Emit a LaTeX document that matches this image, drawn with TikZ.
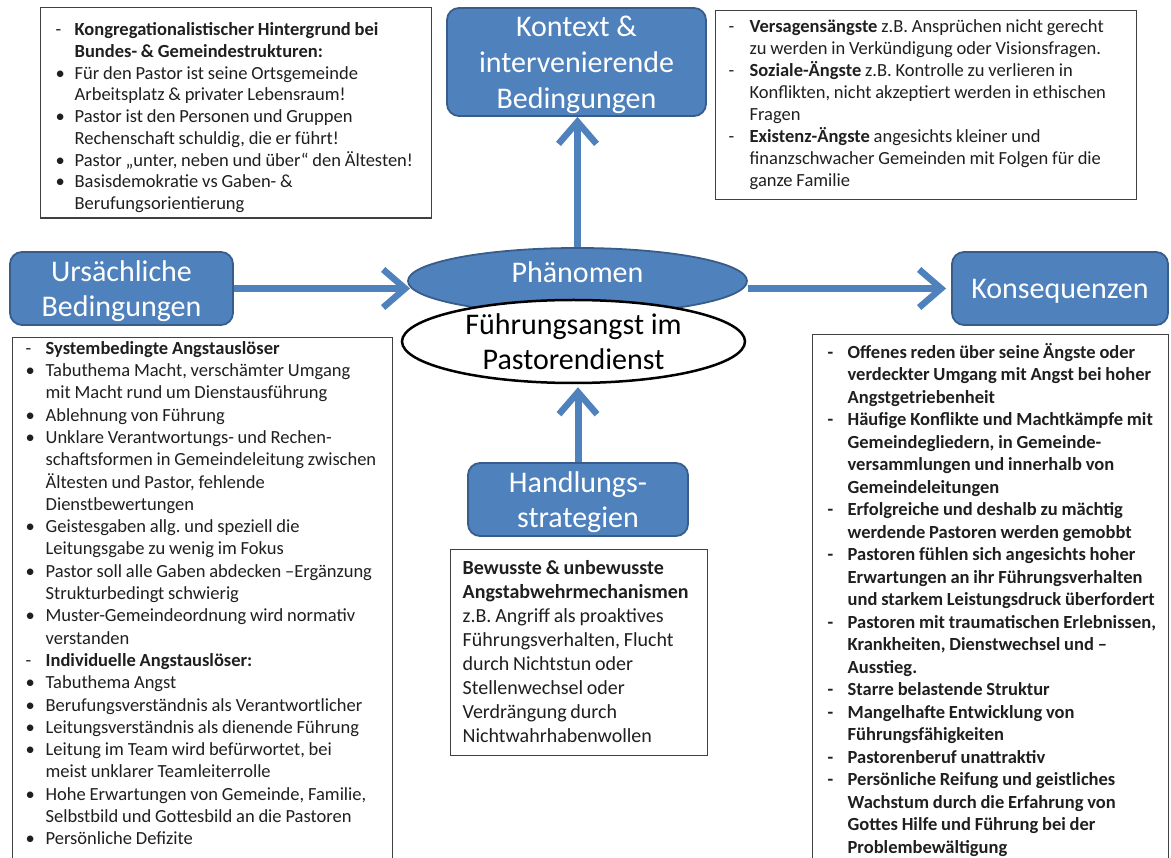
\documentclass[tikz,border=0pt]{standalone}
\usepackage{fontspec}
\setmainfont{Carlito}
\usetikzlibrary{arrows.meta,shapes.geometric}
\definecolor{BoxBlue}{HTML}{4F81BD}
\definecolor{BoxEdge}{HTML}{385D8A}
\definecolor{TextGray}{HTML}{1F1F1F}

\begin{document}
\begin{tikzpicture}[
    x=1pt, y=-1pt,
    % Environment Config
    BlueBox/.style={% Style for the blue category boxes
      draw=BoxEdge,
      fill=BoxBlue,
      line width=1.8pt,
      rounded corners=12pt,
      text=white,
      align=center,
      inner sep=0pt,
      text depth=0pt,
      font=\fontsize{30}{35}\selectfont
    },
    BlueEllipse/.style={% Style for the phenomenon ellipse
      ellipse,
      draw=BoxEdge,
      fill=BoxBlue,
      line width=1.8pt,
      minimum width=339pt,
      minimum height=66pt,
      inner sep=0pt
    },
    CoreEllipse/.style={% Style for the white core ellipse
      ellipse,
      draw=black,
      fill=white,
      line width=2.5pt,
      minimum width=343pt,
      minimum height=83pt,
      inner sep=0pt
    },
    BigLabel/.style={% Style for the texts on the ellipses
      inner sep=0pt,
      align=center,
      font=\fontsize{30}{35}\selectfont
    },
    ListBox/.style={% Style for the framed lists
      draw=black!75,
      fill=white,
      line width=1.3pt,
      anchor=north west,
      align=left,
      inner ysep=0pt,
      text=TextGray,
      execute at begin node={\frenchspacing\spaceskip=3.8pt\xspaceskip=3.8pt\relax}
    },
    FlowArrow/.style={% Style for the blue connectors
      -{Straight Barb[length=22pt,width=38pt,line width=6.5pt]},
      draw=BoxBlue,
      line width=7pt
    }
  ]

  % Fix the page to the reference size
  \useasboundingbox (0,0) rectangle (1171,858);
  \clip (0,0) rectangle (1171,858);

  %===Kontext list===
  \draw(40,7) node[ListBox, inner xsep=15pt, text width=361pt,
      font=\fontsize{18.5}{21.7}\selectfont](ContextList){%
    \begin{tabular}{@{}p{19pt}@{}l@{}}
      \noalign{\vskip 13pt}
      - & \textbf{Kongregationalistischer Hintergrund bei}\\
        & \textbf{Bundes- \& Gemeindestrukturen:}\\
      • & Für den Pastor ist seine Ortsgemeinde\\
        & Arbeitsplatz \& privater Lebensraum!\\
      • & Pastor ist den Personen und Gruppen\\
        & Rechenschaft schuldig, die er führt!\\
      • & Pastor „unter, neben und über“ den Ältesten!\\
      • & Basisdemokratie vs Gaben- \&\\
        & Berufungsorientierung\\
      \noalign{\vskip 2pt}
    \end{tabular}};

  %===Angst list===
  \draw(715,10) node[ListBox, inner xsep=13pt, text width=395pt,
      font=\fontsize{18.5}{22.1}\selectfont](FearList){%
    \begin{tabular}{@{}p{21pt}@{}l@{}}
      \noalign{\vskip 6pt}
      - & \textbf{Versagensängste} z.B. Ansprüchen nicht gerecht\\
        & zu werden in Verkündigung oder Visionsfragen.\\
      - & \textbf{Soziale-Ängste} z.B. Kontrolle zu verlieren in\\
        & Konflikten, nicht akzeptiert werden in ethischen\\
        & Fragen\\
      - & \textbf{Existenz-Ängste} angesichts kleiner und\\
        & finanzschwacher Gemeinden mit Folgen für die\\
        & ganze Familie\\
      \noalign{\vskip 6pt}
    \end{tabular}};

  %===Ursachen list===
  \draw(12,337) node[ListBox, inner xsep=13pt, text width=354pt,
      font=\fontsize{18.5}{22.3}\selectfont](CauseList){%
    \begin{tabular}{@{}p{20pt}@{}l@{}}
      \noalign{\vskip 1pt}
      - & \textbf{Systembedingte Angstauslöser}\\
      • & Tabuthema Macht, verschämter Umgang\\
        & mit Macht rund um Dienstausführung\\
      • & Ablehnung von Führung\\
      • & Unklare Verantwortungs- und Rechen-\\
        & schaftsformen in Gemeindeleitung zwischen\\
        & Ältesten und Pastor, fehlende\\
        & Dienstbewertungen\\
      • & Geistesgaben allg. und speziell die\\
        & Leitungsgabe zu wenig im Fokus\\
      • & Pastor soll alle Gaben abdecken –Ergänzung\\
        & Strukturbedingt schwierig\\
      • & Muster-Gemeindeordnung wird normativ\\
        & verstanden\\
      - & \textbf{Individuelle Angstauslöser:}\\
      • & Tabuthema Angst\\
      • & Berufungsverständnis als Verantwortlicher\\
      • & Leitungsverständnis als dienende Führung\\
      • & Leitung im Team wird befürwortet, bei\\
        & meist unklarer Teamleiterrolle\\
      • & Hohe Erwartungen von Gemeinde, Familie,\\
        & Selbstbild und Gottesbild an die Pastoren\\
      • & Persönliche Defizite\\
      \noalign{\vskip 40pt}
    \end{tabular}};

  %===Strategien list===
  \draw(450,549) node[ListBox, inner xsep=12pt, text width=233pt,
      font=\fontsize{20}{24}\selectfont](StrategyList){%
    \begin{tabular}{@{}l@{}}
      \noalign{\vskip 8pt}
      \textbf{Bewusste \& unbewusste}\\
      \textbf{Angstabwehrmechanismen}\\
      z.B. Angriff als proaktives\\
      Führungsverhalten, Flucht\\
      durch Nichtstun oder\\
      Stellenwechsel oder\\
      Verdrängung durch\\
      Nichtwahrhabenwollen\\
      \noalign{\vskip 6pt}
    \end{tabular}};

  %===Konsequenzen list===
  \draw(812,334) node[ListBox, inner xsep=15pt, text width=326pt,
      font=\fontsize{18.5}{22.5}\selectfont\bfseries](ResultList){%
    \begin{tabular}{@{}p{20pt}@{}l@{}}
      \noalign{\vskip 8pt}
      - & Offenes reden über seine Ängste oder\\
        & verdeckter Umgang mit Angst bei hoher\\
        & Angstgetriebenheit\\
      - & Häufige Konflikte und Machtkämpfe mit\\
        & Gemeindegliedern, in Gemeinde-\\
        & versammlungen und innerhalb von\\
        & Gemeindeleitungen\\
      - & Erfolgreiche und deshalb zu mächtig\\
        & werdende Pastoren werden gemobbt\\
      - & Pastoren fühlen sich angesichts hoher\\
        & Erwartungen an ihr Führungsverhalten\\
        & und starkem Leistungsdruck überfordert\\
      - & Pastoren mit traumatischen Erlebnissen,\\
        & Krankheiten, Dienstwechsel und –\\
        & Ausstieg.\\
      - & Starre belastende Struktur\\
      - & Mangelhafte Entwicklung von\\
        & Führungsfähigkeiten\\
      - & Pastorenberuf unattraktiv\\
      - & Persönliche Reifung und geistliches\\
        & Wachstum durch die Erfahrung von\\
        & Gottes Hilfe und Führung bei der\\
        & Problembewältigung\\
      \noalign{\vskip 40pt}
    \end{tabular}};

  % Put the blue category boxes
  \draw(576.5,62) node[BlueBox, minimum width=259pt, minimum height=108pt,
      font=\fontsize{30}{36}\selectfont](Kontext){Kontext \&\\intervenierende\\Bedingungen};
  \draw(121.5,288.5) node[BlueBox, minimum width=223pt, minimum height=73pt](Urs){Ursächliche\\Bedingungen};
  \draw(1060,288.5) node[BlueBox, minimum width=216pt, minimum height=73pt](Kons){Konsequenzen};
  \draw(578,499.5) node[BlueBox, minimum width=220pt, minimum height=73pt](Hand){Handlungs-\\strategien};

  % Phenomenon with the core ellipse over it
  \draw(577.5,281) node[BlueEllipse](Phen){};
  \draw(577.5,272) node[BigLabel, text=white](PhenText){Phänomen};
  \draw(573.5,341.5) node[CoreEllipse](Core){};
  \draw(573.5,342) node[BigLabel, text=black](CoreText){Führungsangst im\\Pastorendienst};

  % Draw the connectors
  \draw[FlowArrow] (Phen.north) -- (Phen.north |- Kontext.south);
  \draw[FlowArrow, shorten >=-3pt] (Urs.east) -- (Urs.east -| Phen.west);
  \draw[FlowArrow, shorten >=5pt] (Phen.east |- Kons.west) -- (Kons.west);
  \draw[FlowArrow, shorten >=3pt] (Hand.north) -- (Hand.north |- Core.south);

\end{tikzpicture}
\end{document}
